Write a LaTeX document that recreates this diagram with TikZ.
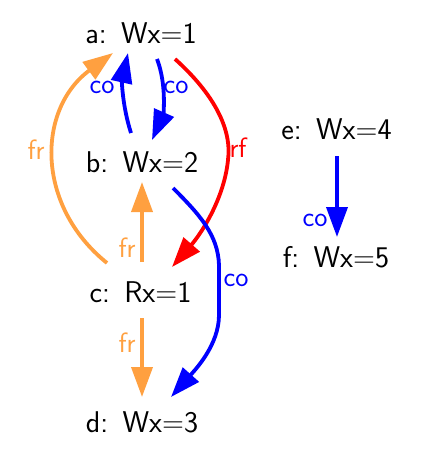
\documentclass[tikz,border=0pt]{standalone}
\usepackage{fontspec}
\usetikzlibrary{arrows.meta}
\definecolor{fro}{RGB}{255,160,64}
\begin{document}
\begin{tikzpicture}[x=1pt,y=-1pt,
  ev/.style={font=\sffamily\fontsize{30}{30}\selectfont, inner sep=0pt, anchor=base},
  lab/.style={font=\sffamily\fontsize{28}{28}\selectfont, inner sep=0pt},
  edge/.style={line width=3.8pt, -{Triangle[length=30pt,width=21pt]}},
  co/.style={edge, blue},
  fr/.style={edge, fro},
  rf/.style={edge, red}]
\useasboundingbox (0,0) rectangle (426,453);
\node[ev] (a) at (141,43) {a:\ \,Wx=1};
\node[ev] (b) at (142,172) {b:\ \,Wx=2};
\node[ev] (c) at (140.5,302) {c:\ \,Rx=1};
\node[ev] (d) at (142,432) {d:\ \,Wx=3};
\node[ev] (e) at (336.5,139) {e:\ \,Wx=4};
\node[ev] (f) at (336,267) {f:\ \,Wx=5};
% a -> b co
\draw[co] ([shift={(16,16)}]a.base) .. controls +(10,26) and +(11,-25) .. ([shift={(10,-32)}]b.base);
\node[lab, text=blue] (l0) at (176,87) {co};
% b -> a co
\draw[co] ([shift={(-11,-39)}]b.base) .. controls +(-9,-28) and +(-6,27) .. ([shift={(-13,10)}]a.base);
\node[lab, text=blue] (l7) at (102,87) {co};
% c -> a fr
\draw[fr] ([shift={(-33.5,-39)}]c.base) .. controls +(-72,-58) and +(-76,56) .. ([shift={(-28,10)}]a.base);
\node[lab, text=fro] (l1) at (36,150) {fr};
% c -> b fr
\draw[fr] ([shift={(1.5,-40)}]c.base) -- ([shift={(0,10)}]b.base);
\node[lab, text=fro] (l2) at (127,248) {fr};
% a -> c rf
\draw[rf] ([shift={(34,16)}]a.base) .. controls +(40,36) and +(4,-30) .. (228,160)
  .. controls +(-4,40) and +(28,-32) .. ([shift={(31.5,-35)}]c.base);
\node[lab, text=red] (l3) at (238,148) {rf};
% b -> d co
\draw[co] ([shift={(31,16)}]b.base) .. controls +(27,27) and +(-1,-30) .. (219,265)
  -- (219,315) .. controls +(0,30) and +(24,-27) .. ([shift={(29,-35)}]d.base);
\node[lab, text=blue] (l4) at (236,280) {co};
% c -> d fr
\draw[fr] ([shift={(1.5,16)}]c.base) -- ([shift={(0,-35)}]d.base);
\node[lab, text=fro] (l5) at (127,343) {fr};
% e -> f co
\draw[co] ([shift={(0.5,17)}]e.base) -- ([shift={(1,-30)}]f.base);
\node[lab, text=blue] (l6) at (315,220) {co};
\end{tikzpicture}
\end{document}
